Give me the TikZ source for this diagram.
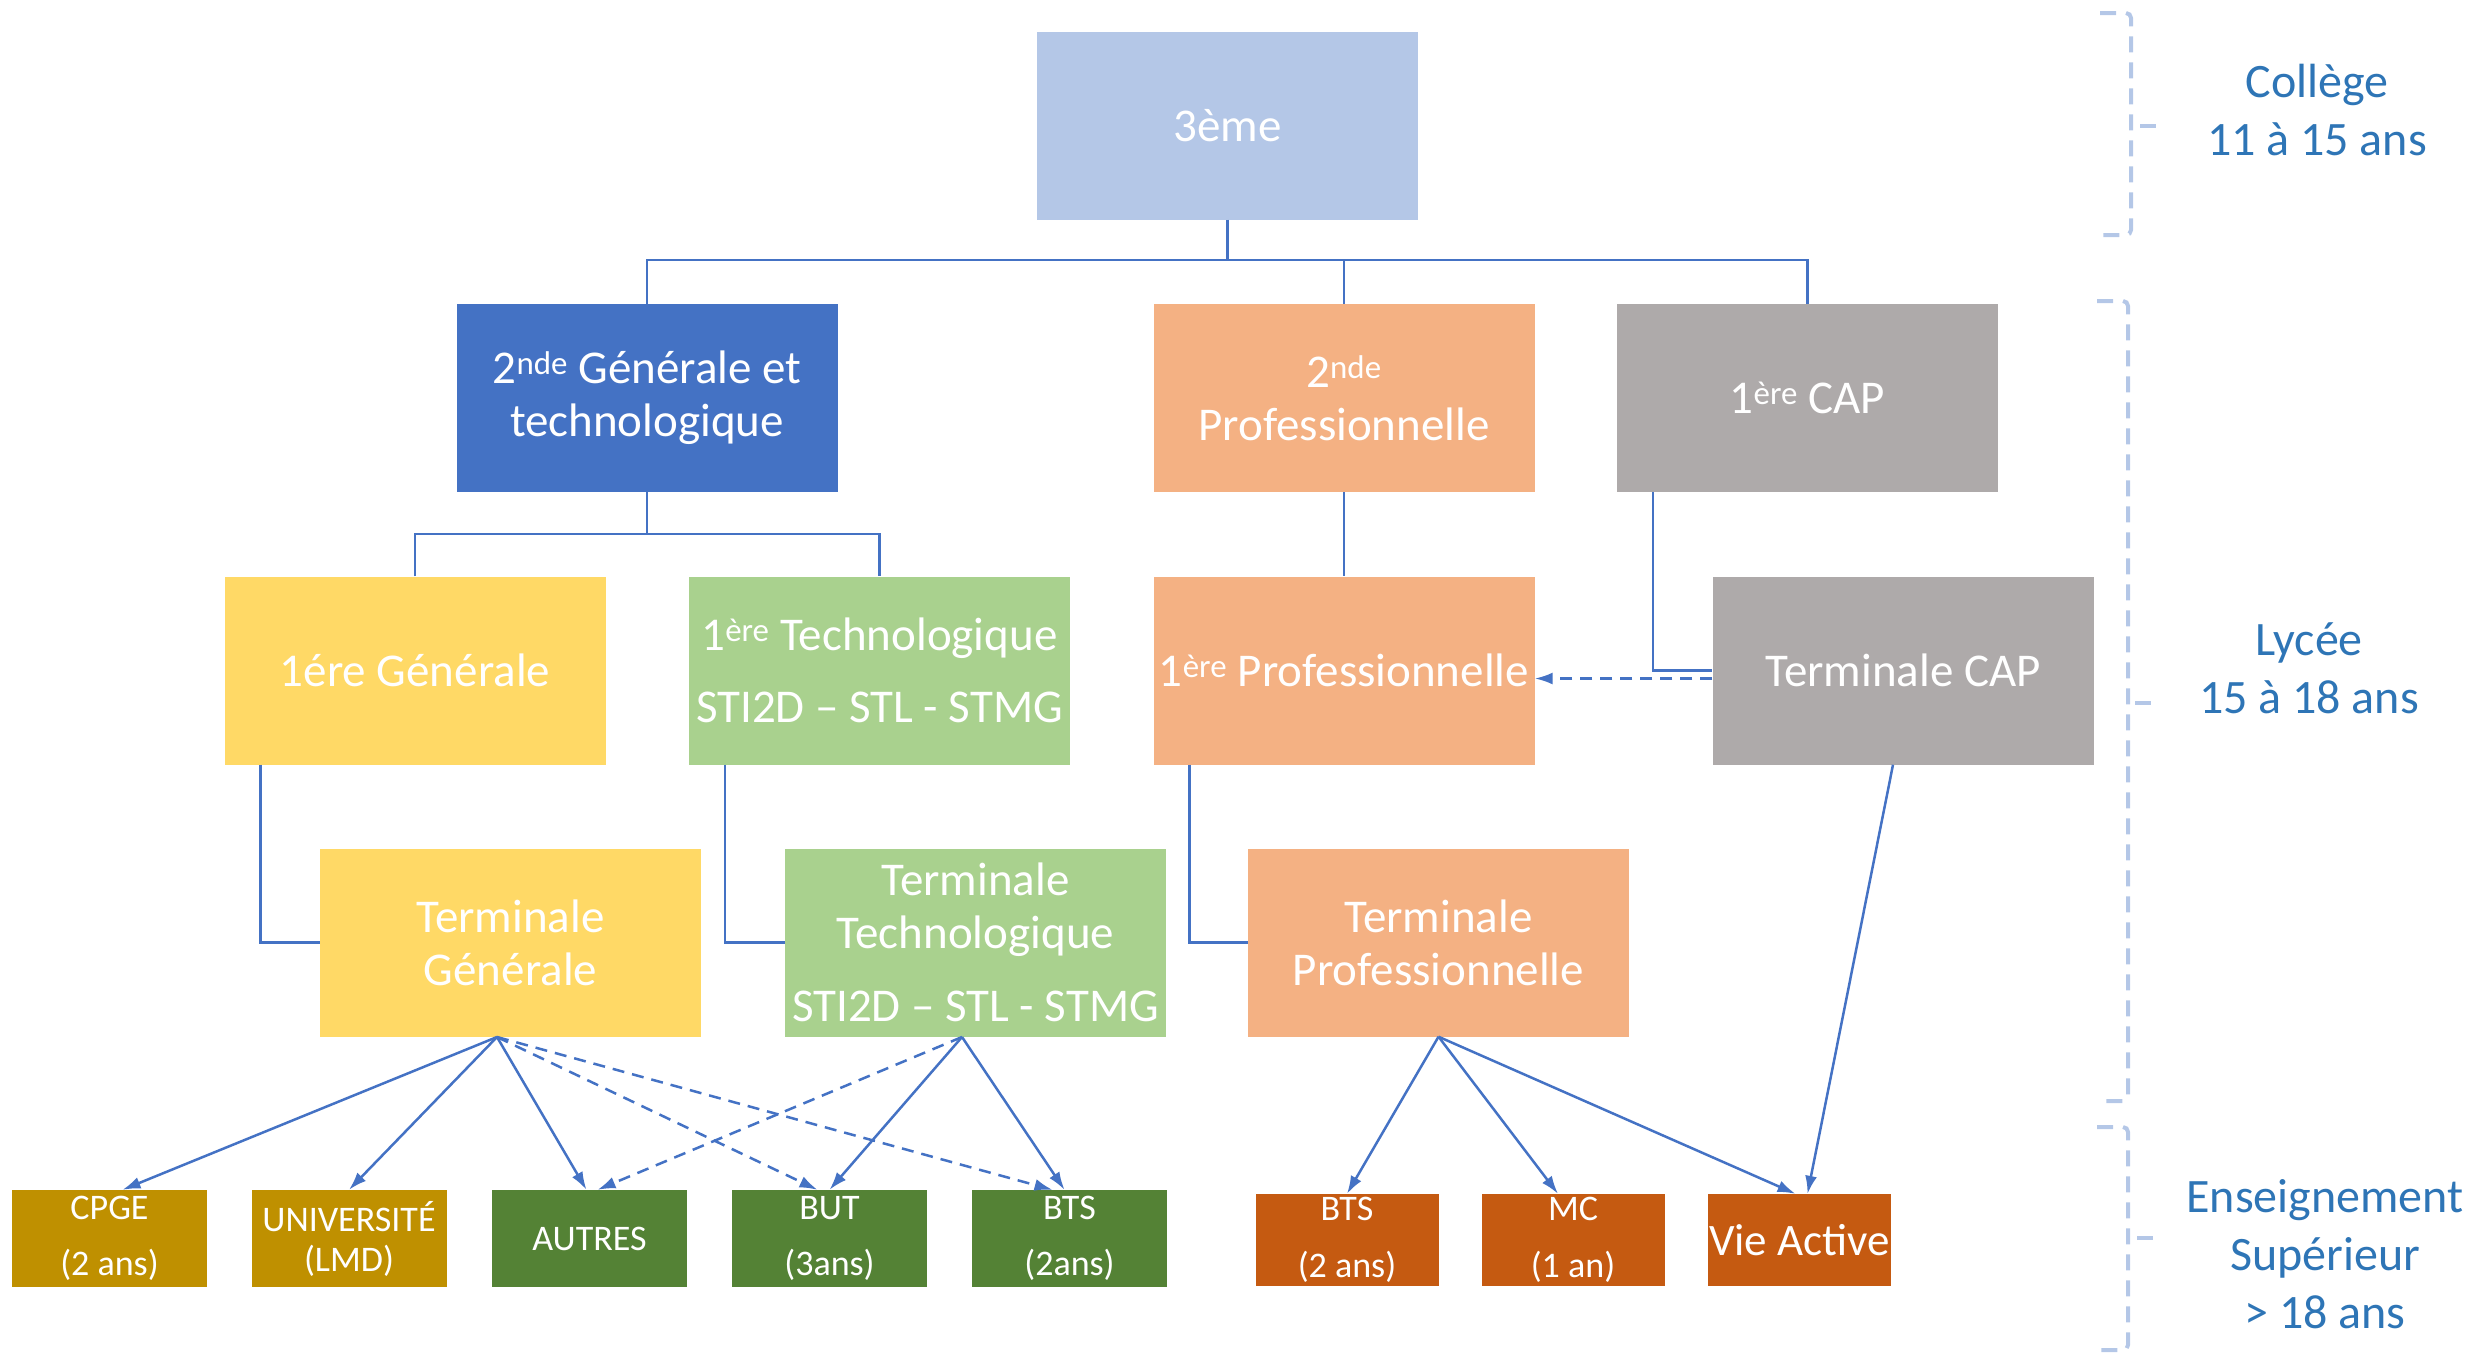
\documentclass[tikz,border=0pt]{standalone}
\usepackage{fontspec}
\setmainfont{Carlito}
\usetikzlibrary{arrows.meta,calc}
\definecolor{lineblue}{HTML}{4472C4}
\definecolor{brackblue}{HTML}{B4C7E7}
\definecolor{labelblue}{HTML}{2E75B6}
\definecolor{cTrois}{HTML}{B4C7E7}
\definecolor{cSgen}{HTML}{4472C4}
\definecolor{cPro}{HTML}{F4B183}
\definecolor{cCap}{HTML}{AEAAAA}
\definecolor{cGen}{HTML}{FFD966}
\definecolor{cTech}{HTML}{A9D18E}
\definecolor{cGold}{HTML}{BF9000}
\definecolor{cGreen}{HTML}{548235}
\definecolor{cOrange}{HTML}{C55A11}
\begin{document}
\begin{tikzpicture}[x=1pt,y=-1pt,
  mainbox/.style={rectangle, fill=#1, text=white, minimum width=381pt, minimum height=188pt,
    inner sep=0pt, align=center, font=\fontsize{47}{53}\selectfont},
  lowbox/.style={rectangle, fill=#1, text=white, minimum width=195pt, minimum height=97pt,
    inner sep=0pt, align=center, font=\fontsize{36}{56}\selectfont},
  probox/.style={rectangle, fill=#1, text=white, minimum width=183pt, minimum height=92pt,
    inner sep=0pt, align=center, font=\fontsize{36}{57}\selectfont},
  conn/.style={draw=lineblue, line width=2.5pt},
  arr/.style={conn, -{Latex[length=18pt,width=12pt]}},
  darr/.style={arr, dash pattern=on 12pt off 8pt},
  brk/.style={draw=brackblue, line width=4pt, dash pattern=on 16pt off 10pt, rounded corners=5pt},
  agelabel/.style={text=labelblue, align=center, font=\fontsize{48}{58}\selectfont}
]
\useasboundingbox (0,0) rectangle (2471,1355);

% main boxes
\node[mainbox=cTrois] (trois) at (1227.5,125.5) {3ème};
\node[mainbox=cSgen] (sgen) at (647,398) {2\textsuperscript{nde} Générale et\\technologique};
\node[mainbox=cPro] (spro) at (1344,398) {2\textsuperscript{nde}\\Professionnelle};
\node[mainbox=cCap] (pcap) at (1807.5,398) {1\textsuperscript{ère} CAP};
\node[mainbox=cGen] (pgen) at (415,670.5) {1ére Générale};
\node[mainbox=cTech] (ptech) at (879.5,670.5) {1\textsuperscript{ère} Technologique\\[19pt]STI2D -- STL - STMG};
\node[mainbox=cPro] (ppro) at (1344,670.5) {1\textsuperscript{ère} Professionnelle};
\node[mainbox=cCap] (tcap) at (1903,670.5) {Terminale CAP};
\node[mainbox=cGen] (tgen) at (510.5,942.5) {Terminale\\Générale};
\node[mainbox=cTech] (ttech) at (975.5,942.5) {Terminale\\Technologique\\[20pt]STI2D -- STL - STMG};
\node[mainbox=cPro] (tpro) at (1438.5,942.5) {Terminale\\Professionnelle};

% bottom boxes
\node[lowbox=cGold] (cpge) at (109.5,1238.5) {CPGE\\(2 ans)};
\node[lowbox=cGold] (univ) at (349,1238.5) {UNIVERSITÉ\\[-16pt](LMD)};
\node[lowbox=cGreen] (autres) at (589.5,1238.5) {AUTRES};
\node[lowbox=cGreen] (but) at (829.5,1238.5) {BUT\\(3ans)};
\node[lowbox=cGreen] (bts) at (1069.5,1238.5) {BTS\\(2ans)};
\node[probox=cOrange] (bts2) at (1347,1240) {BTS\\(2 ans)};
\node[probox=cOrange] (mc) at (1573,1240) {MC\\(1 an)};
\node[probox=cOrange, font=\fontsize{45}{50}\selectfont] (vie) at (1799.5,1240) {Vie Active};

% tree connectors
\coordinate (j1) at (1227.5,260);
\draw[conn] (trois.south) -- (j1);
\draw[conn] (sgen.north) |- (j1) -| (pcap.north);
\draw[conn] (spro.north) -- (spro.north |- j1);
\coordinate (j2) at (647,534);
\draw[conn] (sgen.south) -- (j2);
\draw[conn] (pgen.north) |- (j2) -| (ptech.north);
\draw[conn] (spro.south) -- (ppro.north);
\draw[conn] ([xshift=36pt]pcap.south west) |- (tcap.west);
\draw[conn] ([xshift=36pt]pgen.south west) |- (tgen.west);
\draw[conn] ([xshift=36pt]ptech.south west) |- (ttech.west);
\draw[conn] ([xshift=36pt]ppro.south west) |- (tpro.west);
\draw[darr] ([yshift=-8pt]tcap.west) -- ([yshift=-8pt]ppro.east);

% outcome arrows
\coordinate (ag) at (497,1037);
\coordinate (at) at (962,1037);
\draw[arr] (ag) -- ([xshift=13pt]cpge.north);
\draw[arr] (ag) -- (univ.north);
\draw[arr] (ag) -- ([xshift=-3pt]autres.north);
\draw[darr] (ag) -- ([xshift=-12pt]but.north);
\draw[darr] (ag) -- ([xshift=-17pt]bts.north);
\draw[darr] (at) -- ([xshift=8pt]autres.north);
\draw[arr] (at) -- (but.north);
\draw[arr] (at) -- ([xshift=-5pt]bts.north);
\draw[arr] (tpro.south) -- (bts2.north);
\draw[arr] (tpro.south) -- ([xshift=-15pt]mc.north);
\draw[arr] (tpro.south) -- ([xshift=-4pt]vie.north);
\draw[arr] ([xshift=-10pt]tcap.south) -- ([xshift=8pt]vie.north);

% brackets
\draw[brk] (2100,13) -- (2131,13) -- (2131,235) -- (2100,235);
\draw[brk] (2140,126) -- (2157,126);
\draw[brk] (2097,301) -- (2128,301) -- (2128,1101) -- (2097,1101);
\draw[brk] (2135,703) -- (2157,703);
\draw[brk] (2097,1127) -- (2128,1127) -- (2128,1350) -- (2097,1350);
\draw[brk] (2137,1238) -- (2153,1238);

% age labels
\node[agelabel] (college) at (2317,110) {Collège\\11 à 15 ans};
\node[agelabel] (lycee) at (2309,668) {Lycée\\15 à 18 ans};
\node[agelabel] (sup) at (2325,1254) {Enseignement\\Supérieur\\> 18 ans};
\end{tikzpicture}
\end{document}
